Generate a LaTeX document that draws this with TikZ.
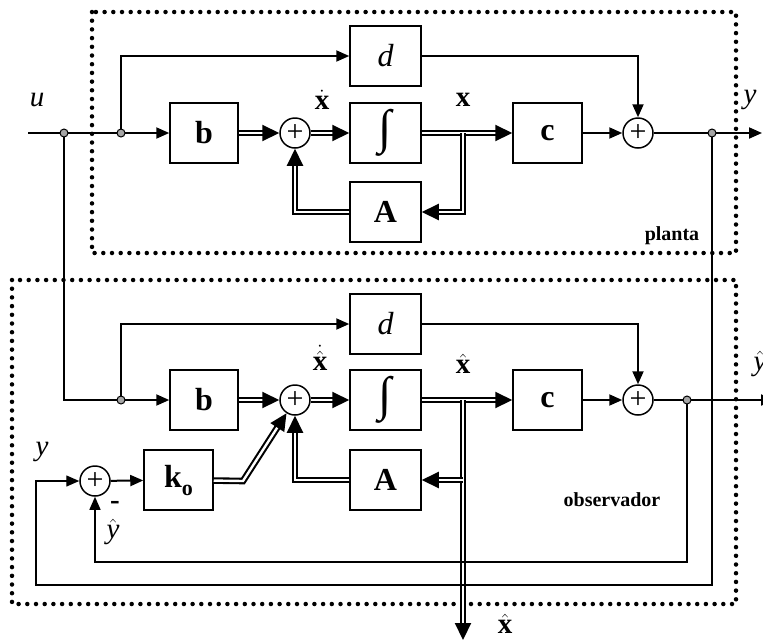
\documentclass[tikz,border=0pt]{standalone}
\usepackage{fontspec}
\setmainfont{Liberation Serif}
\usepackage{tikz}
\usetikzlibrary{arrows.meta, positioning}
\tikzset{
  blk/.style={draw, line width=1.5pt, minimum width=69pt, minimum height=60pt, inner sep=0pt, font=\fontsize{32}{34}\selectfont\bfseries},
  sumnode/.style={draw, circle, line width=1.5pt, minimum size=30pt, inner sep=0pt, font=\fontsize{30}{30}\selectfont},
  junc/.style={draw, circle, fill=gray!70, line width=1pt, minimum size=8pt, inner sep=0pt},
  sig/.style={line width=2pt, -{Triangle[length=13pt,width=11pt]}},
  fbline/.style={line width=1.4pt, -{Triangle[length=13pt,width=11pt]}},
  vec/.style={double, double distance=2.4pt, line width=2.1pt, -{Triangle[length=17pt,width=16pt]}},
  dotbox/.style={line width=4.5pt, dash pattern=on 0pt off 8.7pt, line cap=round},
  lbl/.style={font=\fontsize{29}{30}\selectfont},
  tag/.style={font=\fontsize{20}{22}\selectfont\bfseries}
}

\begin{document}
\begin{tikzpicture}[x=1pt, y=-1pt]
        \useasboundingbox (0,0) rectangle (763,641);
        \draw[dotbox] (92,12) rectangle (736,253);
        \draw[dotbox] (12,280) rectangle (736,604);

        \coordinate (uin) at (28,133);
        \coordinate (j1) at (64,133);
        \coordinate (j2) at (121,133);
        \node[blk, minimum width=68pt] (b1) at (204,133) {b};
        \node[sumnode] (s1) at (295,133) {+};
        \node[blk, minimum width=71pt] (int1) at (385.5,133) {\mdseries\fontsize{48}{48}\selectfont ∫};
        \node[blk, minimum width=71pt] (d1) at (385.5,56) {\itshape\mdseries d};
        \node[blk, minimum width=71pt] (A1) at (385.5,212) {A};
        \coordinate (br1) at (463,133);
        \node[blk] (c1) at (547.5,133) {c};
        \node[sumnode] (s2) at (638,133) {+};
        \coordinate (j3) at (712,133);
        \coordinate (yout) at (762,133);

        \coordinate (j4) at (121,400);
        \node[blk, minimum width=68pt] (b2) at (204,400) {b};
        \node[sumnode] (s3) at (295,400) {+};
        \node[blk, minimum width=71pt] (int2) at (385.5,400) {\mdseries\fontsize{48}{48}\selectfont ∫};
        \node[blk, minimum width=71pt] (d2) at (385.5,324) {\itshape\mdseries d};
        \node[blk, minimum width=71pt] (A2) at (385.5,480) {A};
        \coordinate (br2) at (463,400);
        \coordinate (br3) at (463,480);
        \coordinate (xout) at (463,640);
        \node[blk] (c2) at (547.5,400) {c};
        \node[sumnode] (s4) at (638,400) {+};
        \coordinate (j5) at (687,400);
        \coordinate (yhout) at (774,400);
        \node[sumnode] (s5) at (95,481) {+};
        \node[blk] (ko) at (178.5,480) {k\raisebox{-0.25em}{\fontsize{22}{22}\selectfont o}};
        \coordinate (kb) at (243,481);
        \coordinate (yc) at (36,585);
        \coordinate (yhc) at (95,562);

        \draw[sig] (uin) -- (b1);
        \draw[sig] (j2) |- (d1);
        \draw[vec] (b1) -- (s1);
        \draw[vec] (s1) -- (int1);
        \draw[vec] (int1) -- (c1);
        \draw[vec] (br1) |- (A1);
        \draw[vec] (A1) -| (s1);
        \draw[sig] (d1) -| (s2);
        \draw[sig] (c1) -- (s2);
        \draw[sig] (s2) -- (yout);

        \draw[sig] (j1) |- (b2);
        \draw[sig] (j4) |- (d2);
        \draw[vec] (b2) -- (s3);
        \draw[vec] (s3) -- (int2);
        \draw[vec] (int2) -- (c2);
        \draw[vec] (br2) -- (xout);
        \draw[vec] (br3) -- (A2);
        \draw[vec] (A2) -| (s3);
        \draw[vec] (ko) -- (kb) -- (s3);
        \draw[sig] (d2) -| (s4);
        \draw[sig] (c2) -- (s4);
        \draw[sig] (s4) -- (yhout);
        \draw[sig] (s5) -- (ko);
        \draw[fbline] (j5) |- (yhc) -- (s5);
        \draw[fbline] (j3) |- (yc) |- (s5);

        \node[junc] at (j1) {};
        \node[junc] at (j2) {};
        \node[junc] at (j3) {};
        \node[junc] at (j4) {};
        \node[junc] at (j5) {};

        \node[lbl] (ulbl) at (37,100) {\itshape u};
        \node[lbl] (ylbl) at (750,100) {\itshape y};
        \node[lbl] (xdlbl) at (322,100) {$\dot{\textbf{x}}$};
        \node[lbl] (xlbl) at (463,100) {\textbf{x}};
        \node[tag] (plbl) at (672,236) {planta};
        \node[lbl] (xhdlbl) at (320,358) {$\dot{\hat{\textbf{x}}}$};
        \node[lbl] (xhlbl) at (463,364) {$\hat{\textbf{x}}$};
        \node[lbl] (yhlbl) at (760,364) {$\hat{\textit{y}}$};
        \node[lbl] (y2lbl) at (42,452) {\itshape y};
        \node[lbl] (minus) at (115,505) {\bfseries -};
        \node[lbl] (yh2lbl) at (113,532) {$\hat{\textit{y}}$};
        \node[tag] (olbl) at (612,500) {observador};
        \node[lbl] (xh2lbl) at (505,624) {$\hat{\textbf{x}}$};
    \end{tikzpicture}
\end{document}
